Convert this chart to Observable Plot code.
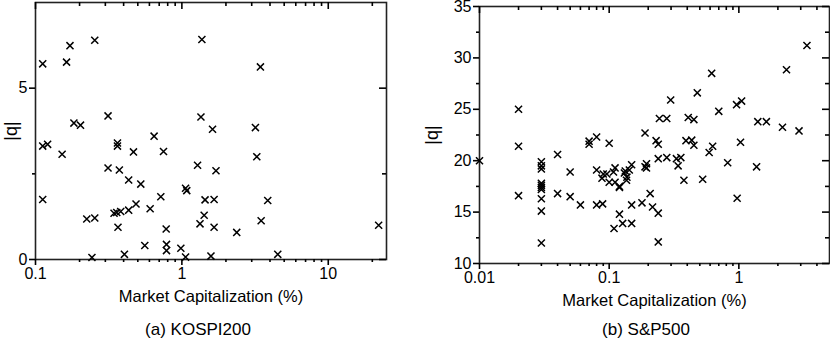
<!DOCTYPE html>
<html>
<head>
<meta charset="utf-8">
<script src="https://cdn.jsdelivr.net/npm/d3@7"></script>
<script src="https://cdn.jsdelivr.net/npm/@observablehq/plot@0.6"></script>
<style>
  body { margin: 0; background: #fff; }
  #wrap { position: relative; width: 830px; height: 349px; background: #fff; font-family: "Liberation Sans", Arial, sans-serif; color: #000; overflow: hidden; }
  .panel { position: absolute; top: 0; }
  .cap { position: absolute; font-size: 17px; text-align: center; white-space: nowrap; }
</style>
</head>
<body>
<div id="wrap">
  <div id="left" class="panel" style="left:0px"></div>
  <div id="right" class="panel" style="left:415px"></div>
  <div class="cap" style="left:98px; width:200px; top:320px">(a) KOSPI200</div>
  <div class="cap" style="left:546px; width:200px; top:320px">(b) S&amp;P500</div>
</div>
<script>
// ---- Data: KOSPI200 ----
const kospiCap = [0.112, 0.163, 0.172, 0.254, 1.37, 0.313, 0.183, 0.203, 1.35, 0.646,
  0.112, 0.121, 0.152, 0.363, 0.363, 0.467, 0.749, 0.313, 0.374, 0.433,
  0.524, 1.28, 1.06, 1.08, 0.112, 0.718, 0.486, 0.433, 0.382, 0.359,
  0.344, 0.607, 0.224, 0.254, 0.366, 0.781, 1.44, 1.42, 1.33, 0.558,
  0.785, 0.785, 0.984, 0.243, 0.405, 1.06, 1.58, 3.44, 1.62, 3.18,
  3.25, 1.71, 1.66, 3.86, 3.48, 1.66, 2.37, 4.52, 22.1];
const kospiQ = [5.71, 5.76, 6.24, 6.40, 6.42, 4.19, 3.98, 3.92, 4.16, 3.60,
  3.31, 3.36, 3.07, 3.40, 3.31, 3.14, 3.15, 2.67, 2.61, 2.32,
  2.20, 2.75, 2.08, 2.01, 1.75, 1.83, 1.62, 1.44, 1.40, 1.37,
  1.35, 1.48, 1.18, 1.21, 0.94, 0.89, 1.74, 1.29, 1.04, 0.41,
  0.44, 0.26, 0.33, 0.06, 0.15, 0.07, 0.10, 5.62, 3.80, 3.85,
  3.00, 2.59, 1.75, 1.72, 1.13, 0.94, 0.79, 0.15, 1.00];

// ---- Data: S&P500 ----
const spCap = [0.01, 0.02, 0.02, 0.02, 0.03, 0.03, 0.03, 0.03, 0.03, 0.03,
  0.03, 0.03, 0.03, 0.03, 0.04, 0.04, 0.05, 0.05, 0.06, 0.07,
  0.07, 0.08, 0.08, 0.08, 0.089, 0.1, 0.09, 0.096, 0.088, 0.1,
  0.111, 0.111, 0.108, 0.12, 0.12, 0.12, 0.109, 0.127, 0.149, 0.133,
  0.131, 0.137, 0.136, 0.149, 0.143, 0.149, 0.179, 0.194, 0.189, 0.194,
  0.189, 0.207, 0.216, 0.239, 0.239, 0.23, 0.239, 0.239, 0.278, 0.33,
  0.357, 0.34, 0.244, 0.278, 0.298, 0.391, 0.433, 0.45, 0.407, 0.45,
  0.478, 0.377, 0.526, 0.59, 0.628, 0.617, 0.70, 0.82, 0.96, 1.05,
  1.03, 0.97, 1.37, 1.40, 1.63, 2.17, 2.33, 2.91, 3.35];
const spQ = [20.0, 25.0, 21.4, 16.6, 19.9, 19.5, 19.2, 17.8, 17.6, 17.4,
  17.2, 16.3, 15.1, 12.0, 20.6, 16.8, 18.9, 16.5, 15.7, 21.9,
  21.6, 22.3, 19.1, 15.7, 15.8, 21.7, 18.7, 18.7, 18.3, 17.9,
  17.9, 19.3, 18.9, 17.5, 17.4, 14.8, 13.4, 13.9, 13.9, 19.0,
  18.8, 18.4, 18.1, 19.6, 19.1, 15.7, 15.9, 19.7, 19.4, 19.3,
  22.7, 16.8, 15.5, 14.9, 12.1, 21.95, 21.6, 20.2, 20.3, 20.2,
  20.3, 19.5, 24.1, 24.1, 25.9, 21.95, 22.0, 21.5, 24.2, 24.0,
  26.6, 18.1, 18.2, 20.8, 21.4, 28.5, 24.8, 19.8, 25.45, 25.8,
  21.8, 16.35, 19.4, 23.8, 23.8, 23.25, 28.85, 22.9, 31.2];

// ---- Tick labels ----
const kospiXTicks = [0.1, 1, 10];
const kospiXMinor = [0.2, 0.3, 0.4, 0.5, 0.6, 0.7, 0.8, 0.9, 2, 3, 4, 5, 6, 7, 8, 9, 20];
const kospiYTicks = [0, 5];
const kospiYMinor = [2.5];
const spXTicks = [0.01, 0.1, 1];
const spXMinor = [0.02, 0.03, 0.04, 0.05, 0.06, 0.07, 0.08, 0.09, 0.2, 0.3, 0.4, 0.5, 0.6, 0.7, 0.8, 0.9, 2, 3, 4];
const spYTicks = [10, 15, 20, 25, 30, 35];
const spYMinor = [12.5, 17.5, 22.5, 27.5, 32.5];

const kospi = kospiCap.map((c, i) => ({cap: c, q: kospiQ[i]}));
const sp = spCap.map((c, i) => ({cap: c, q: spQ[i]}));

function panel({data, xDomain, yDomain, xTicks, xMinor, yTicks, yMinor, margins, width, height, dxLabel, yLabelOffset}) {
  const fmt = d => String(d);
  const TC = "#000";
  const sw = 1.6;
  const pw = width - margins.marginLeft - margins.marginRight;
  const ph = height - margins.marginTop - margins.marginBottom;
  const rx = (ticks, o) => Plot.ruleX(ticks, {x: d => d, stroke: TC, strokeWidth: sw, clip: false, ...o});
  const ry = (ticks, o) => Plot.ruleY(ticks, {y: d => d, stroke: TC, strokeWidth: sw, clip: false, ...o});
  return Plot.plot({
    width, height,
    ...margins,
    style: {fontFamily: "'Liberation Sans', Arial, sans-serif", fontSize: "16px", color: "#000", background: "#fff", overflow: "visible"},
    x: {type: "log", domain: xDomain},
    y: {domain: yDomain},
    marks: [
      Plot.frame({stroke: "#222", strokeWidth: 1.6}),
      // top (inward)
      rx(xTicks, {insetBottom: ph - 7}),
      rx(xMinor, {insetBottom: ph - 4}),
      // right (inward)
      ry(yTicks, {insetLeft: pw - 7}),
      ry(yMinor, {insetLeft: pw - 4}),
      // bottom (outward)
      rx(xTicks, {insetTop: ph, insetBottom: -6}),
      rx(xMinor, {insetTop: ph, insetBottom: -3}),
      // left (outward)
      ry(yTicks, {insetRight: pw, insetLeft: -6}),
      ry(yMinor, {insetRight: pw, insetLeft: -3}),
      // tick labels and titles
      Plot.axisX({anchor: "bottom", ticks: xTicks, tickFormat: fmt, tickSize: 6, tickPadding: 2, stroke: "none", fontSize: 16, label: null}),
      Plot.axisX({anchor: "bottom", ticks: [], tickSize: 0, label: "Market Capitalization (%)", labelAnchor: "center",
        labelOffset: 42, labelArrow: "none", fontSize: 16.5, dx: dxLabel}),
      Plot.axisY({anchor: "left", ticks: yTicks, tickFormat: fmt, tickSize: 6, tickPadding: 2, stroke: "none", fontSize: 16, label: null}),
      Plot.axisY({anchor: "left", ticks: [], tickSize: 0, label: "|q|", labelAnchor: "center", labelArrow: "none",
        labelOffset: yLabelOffset, fontSize: 18}),
      Plot.dot(data, {x: "cap", y: "q", symbol: "times", r: 3.3, stroke: "#000", strokeWidth: 1.5})
    ]
  });
}

document.getElementById("left").append(panel({
  data: kospi, xDomain: [0.1, 25], yDomain: [0, 7.5],
  xTicks: kospiXTicks, xMinor: kospiXMinor, yTicks: kospiYTicks, yMinor: kospiYMinor,
  width: 415, height: 315,
  margins: {marginLeft: 35, marginRight: 29, marginTop: 2, marginBottom: 56},
  dxLabel: 5, yLabelOffset: 31
}));

document.getElementById("right").append(panel({
  data: sp, xDomain: [0.01, 5], yDomain: [10, 35],
  xTicks: spXTicks, xMinor: spXMinor, yTicks: spYTicks, yMinor: spYMinor,
  width: 415, height: 315,
  margins: {marginLeft: 64, marginRight: 1, marginTop: 6, marginBottom: 52},
  dxLabel: 11, yLabelOffset: 54
}));
</script>
</body>
</html>
